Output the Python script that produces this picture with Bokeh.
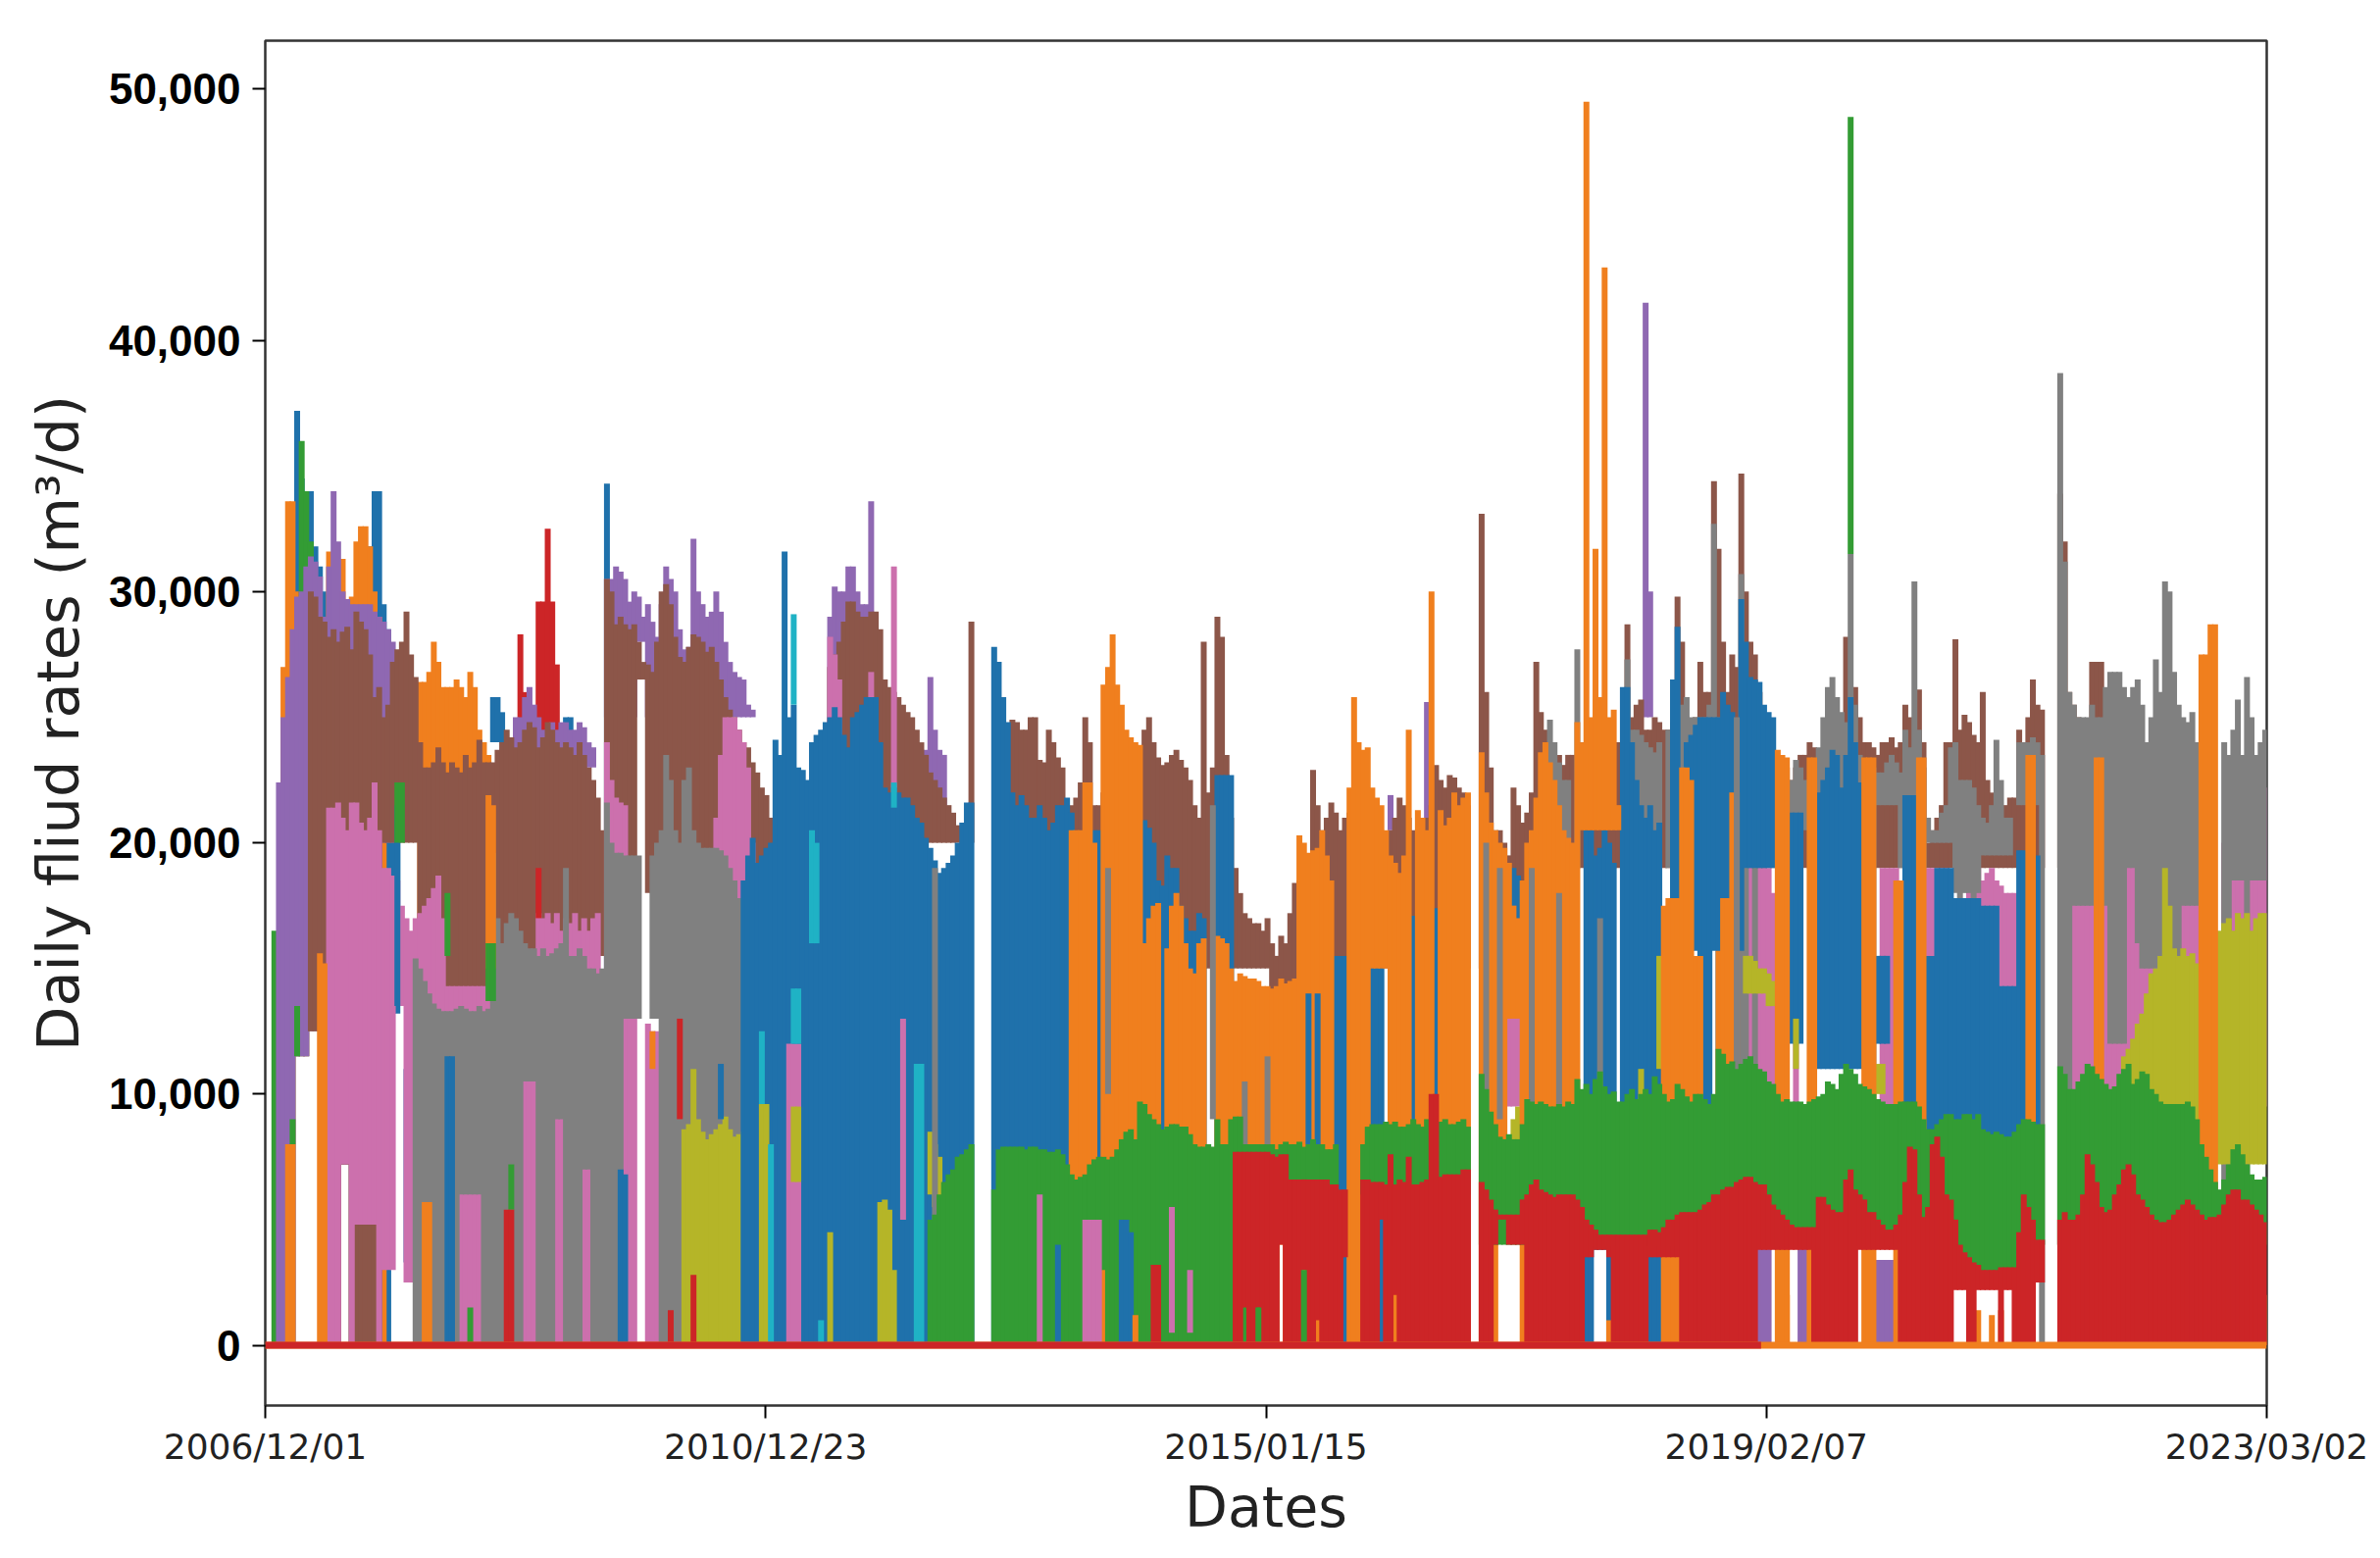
from bokeh.plotting import figure
from bokeh.models import Range1d, FixedTicker, ColumnDataSource
from bokeh.embed import file_html
from bokeh.resources import INLINE

# x is the sample number along the date axis; rates are in hundreds of m3/d
tick_x = [0, 329.5, 659, 988.5, 1318]
tick_text = ["2006/12/01", "2010/12/23", "2015/01/15", "2019/02/07", "2023/03/02"]
y_ticks = [0, 10000, 20000, 30000, 40000, 50000]
STEP = 3

C_BLUE, C_ORANGE, C_GREEN, C_RED, C_PURPLE = "#1f71ab", "#f07f1e", "#339c34", "#cc2527", "#8f68b2"
C_BROWN, C_PINK, C_GRAY, C_OLIVE, C_CYAN = "#8c5649", "#cc70ad", "#808080", "#b5b528", "#1fb2c5"

WHITE_LOW = [(21, 27, 115), (30, 36, 125), (51, 54, 72)]
WHITE_COLS = [(669, 669, 40), (711, 711, 35), (735, 735, 50), (813, 816, 50), (876, 882, 38)]

blue_a_x0 = 18
blue_a = [300, 372, 345, 325, 340, 318, 310, 300, 290, 280,
          270, 270, 270, 270, 270, 280, 300, 318, 340, 340,
          295, 285, 260, 240, 0, 110, 100, 0, 0, 0,
          0, 0, 0, 0, 0, 0, 0, 0, 0, 0,
          0, 0, 0, 0, 258, 258, 252, 240, 230, 225,
          225, 225, 225, 225, 225, 225, 225, 225, 225, 225,
          250, 250, 240, 0, 0, 0, 0, 0, 0, 343]
blue_a_lift = WHITE_LOW + [(84, 90, 132), (93, 96, 33), (150, 222, 240)]

orange_a_x0 = 12
orange_a = [270, 336, 336, 300, 290, 290, 290, 290, 290, 290,
            316, 300, 313, 313, 295, 298, 320, 326, 326, 318,
            300, 290, 280, 0, 0, 0, 0, 0, 0, 0,
            264, 264, 268, 280, 272, 262, 262, 262, 265, 262,
            258, 268, 262, 245, 240, 235]
orange_a_lift = WHITE_LOW + [(102, 150, 150)]

green_a_bits = [(6, 0, 165), (9, 0, 150), (24, 295, 360), (27, 295, 340), (30, 280, 320)]

red_a_x0 = 168
red_a = [283, 260, 0, 0, 296, 296, 325, 296, 271]
red_a_lift = [(168, 192, 240)]

purple_a_x0 = 0
purple_a = [0, 0, 0, 224, 250, 266, 285, 298, 300, 310,
            314, 312, 306, 290, 310, 340, 320, 300, 297, 295,
            295, 295, 295, 295, 292, 290, 288, 285, 280, 0,
            0, 0, 0, 0, 0, 0, 0, 0, 0, 0,
            0, 0, 0, 0, 0, 0, 0, 0, 0, 0,
            0, 0, 0, 0, 0, 250, 250, 258, 262, 255,
            250, 245, 245, 248, 245, 248, 248, 245, 245, 248,
            246, 240, 238, 0, 0, 305, 305, 310, 308, 305,
            296, 300, 298, 290, 295, 288, 282, 295, 310, 305,
            300, 285, 277, 278, 321, 300, 295, 290, 292, 300,
            292, 280, 272, 268, 266, 265, 255, 253, 245, 235,
            228, 225, 0, 0, 0, 0, 0, 0, 0, 0,
            0, 0, 0, 0, 290, 302, 300, 300, 310, 310,
            300, 295, 295, 336, 290, 0, 0, 0, 0, 0,
            0, 0, 0, 0, 237, 237, 266, 245, 237, 235]
purple_a_lift = WHITE_LOW + [(78, 90, 200), (150, 222, 230), (225, 335, 250), (246, 249, 280), (372, 450, 215)]
purple_bits = [(741, 205, 219), (765, 205, 256), (909, 250, 415), (912, 250, 300),
               (885, 0, 46), (888, 0, 47), (891, 0, 47), (894, 0, 46), (897, 0, 46), (900, 0, 45),
               (903, 0, 45), (906, 0, 46), (912, 0, 46), (918, 10, 100), (921, 10, 100),
               (978, 0, 56), (981, 0, 56), (984, 0, 56), (987, 0, 55), (990, 0, 54),
               (1011, 0, 42), (1014, 0, 40), (1062, 0, 34), (1065, 0, 34), (1068, 0, 34), (1071, 0, 34)]

brown_x0 = 30
brown = [300, 298, 290, 288, 282, 285, 280, 284, 286, 277,
         292, 288, 285, 275, 258, 262, 250, 255, 272, 277,
         280, 292, 275, 266, 240, 230, 230, 232, 238, 232,
         228, 232, 230, 228, 235, 230, 232, 241, 232, 232,
         232, 237, 240, 245, 242, 238, 240, 245, 248, 246,
         238, 242, 248, 245, 240, 238, 240, 238, 235, 240,
         235, 230, 225, 218, 205, 305, 300, 287, 290, 287,
         285, 287, 280, 272, 271, 268, 280, 300, 303, 295,
         282, 274, 272, 278, 283, 282, 280, 276, 278, 272,
         265, 258, 253, 250, 245, 240, 238, 232, 228, 222,
         219, 210, 200, 0, 0, 0, 0, 0, 0, 0,
         0, 0, 0, 0, 270, 275, 280, 288, 296, 296,
         292, 290, 290, 292, 292, 285, 265, 262, 260, 258,
         255, 252, 250, 245, 240, 235, 228, 225, 222, 218,
         215, 212, 207, 204, 203, 288, 0, 0, 0, 0,
         0, 0, 0, 0, 249, 248, 245, 245, 250, 250,
         233, 232, 245, 240, 234, 230, 212, 215, 218, 224,
         250, 240, 215, 215, 220, 225, 230, 235, 235, 235,
         235, 238, 238, 245, 250, 240, 234, 231, 232, 235,
         237, 233, 230, 225, 215, 210, 280, 220, 230, 290,
         282, 235, 210, 190, 180, 172, 170, 168, 168, 165,
         170, 160, 155, 163, 160, 172, 184, 185, 190, 195,
         229, 215, 205, 210, 216, 212, 205, 210, 212, 212,
         210, 215, 215, 210, 205, 200, 190, 205, 210, 218,
         215, 210, 205, 205, 208, 210, 215, 231, 225, 222,
         227, 226, 222, 220, 215, 0, 0, 331, 260, 230,
         205, 205, 200, 195, 222, 215, 208, 212, 220, 272,
         252, 245, 240, 235, 235, 231, 235, 235, 235, 240,
         240, 240, 240, 240, 240, 240, 240, 240, 240, 287,
         250, 255, 257, 245, 245, 250, 248, 245, 245, 248,
         298, 280, 250, 245, 250, 272, 260, 260, 344, 317,
         280, 260, 275, 270, 347, 300, 280, 275, 260, 250,
         245, 235, 230, 230, 230, 225, 230, 235, 235, 240,
         238, 235, 230, 232, 235, 240, 245, 282, 262, 262,
         250, 240, 240, 238, 235, 240, 240, 242, 238, 240,
         255, 250, 245, 261, 240, 200, 205, 210, 215, 240,
         240, 281, 245, 251, 248, 243, 240, 260, 225, 220,
         215, 212, 215, 218, 218, 245, 240, 250, 265, 255,
         253, 0, 0, 0, 339, 320, 260, 255, 250, 245,
         245, 272, 272, 272, 250, 235, 240, 240, 235, 235]
brown_lift = WHITE_LOW + [(78, 100, 200), (105, 147, 130), (150, 222, 155), (225, 335, 180),
                          (246, 249, 265), (372, 466, 200), (492, 660, 150), (661, 690, 130),
                          (690, 855, 150), (855, 1230, 190)]

pink_a_x0 = 30
pink_a = [0, 0, 0, 0, 214, 214, 216, 210, 205, 216,
          216, 208, 205, 210, 224, 205, 190, 190, 187, 185,
          175, 170, 165, 170, 172, 175, 178, 182, 187, 170,
          143, 143, 143, 143, 143, 143, 143, 143, 143, 143,
          0, 0, 0, 0, 0, 110, 110, 110, 110, 110,
          172, 170, 172, 168, 172, 165, 170, 168, 172, 165,
          170, 165, 170, 172, 0, 240, 225, 218, 216, 215,
          130, 130, 0, 0, 128, 125, 125, 122, 120, 120,
          0, 0, 0, 0, 0, 0, 0, 0, 0, 210,
          235, 250, 250, 250, 245, 240, 230, 200, 170, 0,
          0, 0, 0, 0, 0, 120, 120, 120, 0, 0,
          0, 0, 0, 0, 282, 275, 265, 0, 0, 0,
          0, 0, 0, 268, 0, 0, 0, 0, 310, 0]
pink_a_lift = [(51, 54, 72), (60, 72, 48), (78, 84, 30), (85, 90, 135), (93, 99, 25), (372, 378, 200), (399, 414, 220)]
pink_bits = [(345, 0, 120), (348, 0, 120), (351, 0, 120), (420, 50, 130)]

pink_b_x0 = 810
pink_b = [0, 0, 160, 160, 160, 162, 160, 158, 0, 0,
          0, 0, 0, 0, 0, 0, 0, 0, 0, 0,
          0, 0, 0, 0, 0, 0, 0, 0, 0, 0,
          0, 0, 0, 0, 0, 170, 170, 170, 0, 0,
          0, 0, 0, 0, 0, 0, 0, 0, 0, 0,
          0, 0, 0, 0, 0, 0, 200, 200, 198, 195,
          190, 180, 170, 0, 0, 0, 190, 0, 0, 0,
          0, 0, 0, 0, 0, 0, 0, 0, 0, 0,
          0, 0, 0, 0, 0, 190, 190, 190, 190, 0,
          0, 0, 0, 0, 0, 190, 190, 190, 190, 190,
          0, 0, 0, 0, 185, 188, 190, 185, 188, 190,
          185, 183, 180, 180, 180, 0, 0, 0, 0, 0,
          0, 0, 0, 0, 0, 0, 210, 212, 215, 212,
          212, 210, 205, 0, 220, 222, 220, 218, 215, 215,
          210, 205, 190, 190, 190, 190, 190, 190, 190, 218,
          218, 218, 215, 215, 212, 0, 0, 0, 0, 0,
          200, 200, 200, 200, 215, 220, 222, 224, 224, 222]
pink_b_lift = [(810, 1317, 95), (1236, 1257, 85)]

gray_a_x0 = 90
gray_a = [0, 0, 0, 154, 150, 145, 140, 136, 134, 133,
          133, 133, 134, 135, 134, 133, 133, 135, 133, 134,
          196, 170, 160, 168, 172, 170, 165, 160, 158, 158,
          155, 158, 155, 156, 158, 160, 190, 155, 155, 158,
          155, 150, 150, 148, 150, 216, 200, 196, 196, 195,
          195, 195, 195, 0, 0, 195, 200, 205, 235, 225,
          205, 200, 225, 230, 205, 200, 198, 198, 198, 198,
          197, 195, 190, 185, 178, 168]
gray_a_lift = [(129, 141, 60), (171, 177, 105), (192, 195, 90), (210, 213, 70), (237, 258, 130)]

gray_b_x0 = 840
gray_b = [0, 0, 249, 240, 232, 225, 225, 0, 277, 0,
          0, 0, 0, 0, 0, 0, 0, 0, 0, 273,
          245, 245, 243, 240, 238, 236, 240, 0, 245, 240,
          250, 255, 258, 250, 250, 250, 250, 255, 327, 250,
          240, 235, 235, 240, 307, 245, 240, 230, 225, 220,
          215, 210, 0, 220, 222, 225, 233, 230, 225, 225,
          230, 238, 250, 262, 266, 258, 252, 248, 315, 255,
          235, 230, 233, 230, 228, 228, 232, 235, 232, 228,
          245, 238, 304, 245, 230, 210, 205, 205, 212, 215,
          238, 240, 225, 225, 225, 222, 215, 210, 208, 215,
          241, 225, 210, 210, 215, 240, 240, 240, 242, 240,
          235, 0, 0, 0, 387, 312, 260, 255, 250, 250,
          250, 255, 250, 250, 262, 268, 268, 268, 262, 258,
          262, 265, 255, 240, 250, 273, 260, 304, 300, 268,
          255, 250, 248, 252, 240, 225, 0, 0, 0, 0,
          240, 235, 245, 257, 235, 266, 250, 235, 240, 245]
gray_b_lift = [(840, 1317, 190), (990, 1020, 205), (1021, 1050, 200), (1062, 1076, 215), (1095, 1110, 200),
               (1111, 1130, 180), (1131, 1150, 195), (1151, 1170, 215), (1190, 1212, 175), (1213, 1230, 190),
               (1231, 1259, 160), (1260, 1275, 175), (1287, 1317, 185),
               (969, 975, 100), (981, 981, 60), (1059, 1059, 60), (1116, 1116, 60),
               (1125, 1125, 60), (1170, 1170, 0), (1182, 1188, 40), (1215, 1226, 120), (1236, 1257, 150),
               (1260, 1260, 60), (1287, 1293, 60), (1305, 1305, 60)]

olive_a_x0 = 270
olive_a = [0, 0, 86, 88, 110, 90, 85, 82, 84, 86,
           88, 91, 86, 83, 84, 85]
olive_d_x0 = 1224
olive_d = [115, 118, 122, 128, 132, 140, 148, 150, 155, 190,
           175, 158, 155, 158, 155, 156, 152, 0, 0, 0,
           0, 165, 168, 170, 165, 172, 170, 172, 165, 170,
           172, 172]
olive_d_lift = [(1224, 1272, 85), (1287, 1317, 72)]
olive_bits = [(327, 0, 96), (330, 0, 96), (348, 65, 95), (351, 65, 95), (372, 0, 45),
              (438, 60, 85), (441, 55, 80), (444, 55, 75),
              (405, 0, 57), (408, 0, 58), (411, 0, 54), (414, 0, 30),
              (822, 75, 90), (825, 75, 95), (828, 75, 105), (831, 75, 110),
              (843, 95, 114), (906, 95, 110), (918, 110, 155), (921, 110, 145),
              (975, 140, 155), (978, 140, 155), (981, 140, 153), (984, 140, 150), (987, 140, 150),
              (990, 135, 148), (993, 135, 145), (1008, 110, 130), (1062, 100, 112), (1065, 100, 112)]

cyan_bits = [(348, 255, 291), (348, 120, 142), (351, 120, 142),
             (327, 96, 125), (333, 0, 80), (429, 0, 112), (432, 0, 112), (366, 0, 10),
             (456, 0, 15), (414, 214, 224), (360, 160, 205), (363, 160, 200)]

blue_b_x0 = 300
blue_b = [0, 0, 0, 0, 0, 185, 195, 202, 192, 195,
          198, 200, 241, 235, 316, 250, 255, 230, 229, 225,
          240, 243, 245, 248, 250, 254, 250, 243, 238, 250,
          252, 255, 258, 258, 258, 240, 222, 220, 222, 220,
          218, 218, 215, 210, 208, 202, 198, 193, 188, 190,
          192, 195, 200, 208, 216, 216, 0, 0, 0, 0,
          278, 272, 258, 248, 220, 215, 219, 215, 210, 210,
          215, 210, 205, 208, 215, 215, 218, 212, 0, 0,
          0, 0, 205, 205, 0, 0, 0, 0, 0, 0,
          0, 0, 0, 209, 206, 200, 185, 183, 195, 190,
          190, 175, 170, 165, 165, 172, 170, 0, 0, 227,
          227, 227, 227]
blue_c_x0 = 690
blue_c = [0, 0, 0, 0, 155, 155, 155, 155, 150, 0,
          0, 0, 0, 155, 155, 152, 0, 0, 0, 0,
          0, 0, 171, 171, 0, 0, 0, 174, 174]
blue_d_x0 = 810
blue_d = [0, 0, 0, 0, 190, 187, 180, 178, 0, 0,
          0, 0, 0, 0, 0, 0, 0, 0, 0, 0,
          205, 205, 195, 198, 205, 200, 192, 0, 262, 262,
          240, 225, 215, 210, 215, 205, 208, 0, 0, 265,
          286, 0, 240, 243, 247, 250, 250, 250, 250, 250,
          260, 255, 252, 248, 297, 280, 266, 265, 264, 255,
          252, 250, 0, 0, 0, 212, 212, 212, 0, 0,
          204, 220, 225, 230, 237, 235, 222, 235, 258, 240,
          224, 0, 0, 0, 155, 155, 155, 0, 0, 0,
          219, 219, 219, 0, 0, 155, 155, 190, 190, 190,
          190, 178, 178, 178, 178, 178, 178, 175, 175, 175,
          175, 143, 143, 143, 143, 197, 197, 0, 195, 195]
blue_d_lift = WHITE_COLS + [(810, 837, 150), (936, 972, 157), (945, 953, 60), (957, 960, 60), (975, 998, 190),
               (1005, 1011, 120), (1020, 1053, 110), (1062, 1068, 120), (1095, 1152, 80), (1153, 1170, 60)]
blue_bits = [(120, 0, 115), (123, 0, 115), (234, 0, 70), (237, 0, 68), (300, 90, 112),
             (87, 135, 215), (1311, 45, 62), (1314, 50, 62), (1287, 30, 40)]

orange_b_x0 = 510
orange_b = [0, 0, 0, 0, 0, 0, 0, 205, 205, 205,
            224, 224, 200, 0, 263, 270, 283, 263, 255, 245,
            242, 240, 239, 160, 170, 175, 176, 0, 158, 175,
            180, 175, 160, 150, 148, 160, 162, 0, 0, 163,
            162, 160, 150, 145, 148, 147, 146, 146, 145, 143,
            143, 142, 143, 146, 144, 145, 146, 203, 200, 196,
            197, 198, 205, 195, 185, 0, 0, 0, 222, 258,
            240, 237, 238, 222, 218, 215, 205, 195, 192, 188,
            195, 245, 0, 213, 210, 205, 300, 0, 213, 207,
            210, 220, 215, 218, 220, 0, 0, 236, 220, 208,
            205, 200, 198, 192, 175, 170, 185, 200, 205, 218,
            236, 240, 232, 225, 215, 205, 202, 200, 248, 240,
            495, 250, 317, 258, 429, 250, 253, 215, 0, 0,
            0, 0, 0, 0, 0, 0, 0, 175, 178, 178,
            178, 230, 230, 225, 155, 155, 0, 0, 0, 157,
            178, 178, 220, 220, 0, 0, 0, 0, 0, 0,
            0, 0, 237, 235, 234, 0, 0, 0, 0, 234,
            234, 0, 0, 0, 0, 0, 0, 0, 0, 0,
            0, 234, 234, 234, 0, 0, 0, 0, 185, 185,
            0, 0, 0, 234, 234, 0, 0, 0, 0, 0,
            0, 0, 0, 0, 0, 0, 0, 0, 0, 0,
            0, 0, 0, 0, 0, 0, 0, 235, 235, 0,
            0, 0, 0, 0, 0, 0, 0, 0, 0, 0,
            0, 0, 234, 234, 0, 0, 0, 0, 22, 25,
            30, 28, 25, 32, 30, 25, 28, 30, 26, 22,
            25, 22, 20, 22, 25, 275, 275, 287, 287, 25,
            25, 22, 22, 25, 20, 25, 25, 22, 22, 20]
orange_b_lift = WHITE_COLS + [(729, 738, 150), (819, 825, 130), (866, 892, 205)]
orange_bits = [(15, 0, 80), (18, 0, 80), (36, 0, 156), (39, 0, 152), (105, 0, 57), (108, 0, 57),
               (147, 150, 219), (150, 150, 215), (255, 110, 125), (885, 0, 10), (960, 0, 30), (1002, 0, 20),
               (1122, 0, 12), (1128, 0, 14), (1137, 0, 12), (1143, 0, 14)]

gray_late = [(441, 50, 190), (555, 100, 190), (624, 90, 215), (645, 80, 105), (660, 80, 115),
             (804, 90, 200), (813, 90, 190), (834, 90, 190), (852, 90, 180), (879, 100, 170), (969, 0, 250)]
blue_late = [(687, 80, 140), (693, 80, 140)]

green_x0 = 420
green = [0, 0, 0, 0, 0, 0, 50, 52, 60, 65,
         68, 70, 75, 76, 78, 80, 0, 0, 0, 0,
         62, 78, 79, 79, 79, 79, 79, 78, 79, 79,
         78, 78, 77, 77, 78, 76, 72, 68, 66, 67,
         68, 72, 74, 75, 75, 74, 75, 78, 82, 85,
         86, 82, 97, 96, 92, 90, 88, 86, 87, 88,
         88, 87, 87, 84, 80, 79, 79, 80, 79, 90,
         80, 80, 90, 91, 91, 80, 80, 80, 80, 80,
         80, 80, 78, 80, 81, 80, 80, 81, 79, 80,
         82, 80, 80, 78, 78, 80, 0, 0, 0, 0,
         0, 80, 87, 88, 88, 88, 89, 88, 89, 87,
         87, 88, 90, 88, 87, 90, 88, 88, 89, 90,
         88, 88, 89, 90, 87, 0, 0, 108, 102, 93,
         88, 83, 82, 84, 82, 82, 88, 98, 97, 96,
         97, 96, 95, 95, 96, 95, 97, 96, 106, 102,
         104, 100, 106, 109, 103, 100, 101, 97, 97, 100,
         102, 98, 100, 102, 100, 107, 104, 100, 97, 98,
         104, 102, 99, 97, 100, 100, 98, 96, 100, 118,
         116, 112, 113, 110, 112, 114, 115, 112, 110, 109,
         105, 104, 100, 97, 98, 97, 97, 97, 96, 97,
         98, 99, 100, 105, 104, 102, 108, 112, 110, 108,
         104, 103, 102, 100, 98, 97, 96, 96, 96, 97,
         97, 97, 97, 95, 90, 86, 86, 88, 90, 92,
         92, 90, 90, 92, 92, 90, 92, 86, 85, 84,
         85, 84, 83, 83, 85, 88, 90, 90, 89, 88,
         88, 0, 0, 0, 111, 108, 102, 102, 105, 108,
         112, 111, 108, 106, 104, 102, 103, 108, 110, 112,
         104, 106, 109, 108, 102, 100, 97, 96, 96, 96,
         96, 96, 97, 95, 90, 80, 75, 70, 65, 62,
         66, 72, 78, 80, 76, 72, 68, 66, 66, 67]
green_lift = [(540, 552, 30), (564, 572, 35), (660, 800, 60), (801, 1109, 40), (1110, 1152, 28),
              (1153, 1249, 40), (1250, 1268, 28), (1269, 1317, 40)]
green_bits = [(87, 200, 224), (90, 200, 224), (120, 155, 180), (147, 137, 160), (150, 137, 160),
              (21, 115, 135), (18, 80, 90), (162, 54, 72), (135, 0, 15), (1044, 315, 489)]

pink_top = [(510, 0, 60), (540, 0, 50), (543, 0, 50), (546, 0, 50), (549, 0, 50), (597, 5, 55), (609, 5, 30)]
blue_top = [(564, 0, 50), (567, 0, 50), (570, 0, 45), (522, 0, 40)]
orange_top = [(573, 0, 12)]

red_x0 = 630
red = [0, 0, 0, 77, 77, 77, 77, 77, 77, 77,
       77, 76, 75, 76, 76, 66, 66, 66, 66, 66,
       66, 66, 66, 66, 64, 64, 62, 62, 0, 0,
       0, 66, 66, 65, 65, 65, 64, 76, 64, 66,
       65, 75, 64, 64, 65, 66, 100, 100, 67, 68,
       68, 68, 68, 70, 70, 0, 0, 65, 62, 58,
       54, 52, 52, 52, 52, 52, 58, 60, 64, 66,
       62, 61, 60, 59, 60, 60, 60, 60, 58, 55,
       50, 48, 46, 44, 44, 44, 44, 44, 44, 44,
       44, 44, 44, 44, 46, 46, 45, 47, 50, 50,
       52, 53, 53, 53, 53, 54, 56, 57, 60, 60,
       62, 63, 63, 65, 66, 67, 67, 65, 64, 64,
       60, 56, 54, 52, 50, 48, 47, 47, 47, 47,
       47, 59, 59, 56, 54, 53, 53, 66, 70, 62,
       60, 58, 53, 53, 50, 48, 46, 46, 48, 52,
       65, 79, 78, 60, 51, 55, 80, 83, 75, 60,
       58, 50, 40, 37, 35, 33, 32, 30, 30, 30,
       30, 31, 31, 31, 31, 45, 60, 55, 50, 42,
       42, 0, 0, 0, 50, 53, 50, 50, 52, 60,
       76, 72, 65, 55, 53, 54, 60, 64, 70, 72,
       68, 60, 58, 55, 52, 50, 49, 49, 50, 52,
       54, 56, 58, 56, 54, 52, 50, 51, 51, 52,
       56, 60, 62, 62, 58, 58, 56, 54, 52, 49]
red_lift = WHITE_COLS + [(645, 645, 15), (654, 654, 15), (684, 684, 30), (693, 693, 10), (744, 744, 20),
            (810, 812, 40), (817, 830, 40), (870, 875, 35), (883, 885, 35), (910, 932, 35),
            (984, 1018, 38), (1048, 1075, 38), (1112, 1120, 22), (1126, 1140, 22), (1146, 1150, 22),
            (1165, 1172, 25)]
red_bits = [(159, 0, 54), (162, 0, 54), (267, 0, 14), (282, 0, 28), (273, 90, 130), (180, 170, 190),
            (585, 0, 32), (588, 0, 32)]
green_top = [(654, 0, 15), (684, 0, 30)]

base_x = [0, 1318]
base_red_x = [0, 985]
base_y = [0, 0]


def lift_at(u, lift):
    lo = 0
    for a, b, v in lift:
        if a <= u <= b:
            lo = v
    return lo


def draw(p, hi, x0, lift, color):
    xs, los, his = [], [], []
    for i, v in enumerate(hi):
        u = x0 + STEP * i
        lo = lift_at(u, lift)
        if v > lo:
            xs.append(u)
            los.append(lo * 100)
            his.append(v * 100)
    src = ColumnDataSource(dict(x=xs, lo=los, hi=his))
    p.segment("x", "lo", "x", "hi", source=src, line_color=color, line_width=6)


def draw_bits(p, bits, color):
    src = ColumnDataSource(dict(x=[b[0] for b in bits],
                                lo=[b[1] * 100 for b in bits],
                                hi=[b[2] * 100 for b in bits]))
    p.segment("x", "lo", "x", "hi", source=src, line_color=color, line_width=6)


p = figure(width=2419, height=1581, output_backend="svg", toolbar_location=None,
           x_range=Range1d(0, 1318), y_range=Range1d(-2400, 51930),
           min_border_left=270, min_border_right=108, min_border_top=41, min_border_bottom=148,
           background_fill_color="white", border_fill_color="white")

draw(p, blue_a, blue_a_x0, blue_a_lift, C_BLUE)
draw(p, orange_a, orange_a_x0, orange_a_lift, C_ORANGE)
draw_bits(p, green_a_bits, C_GREEN)
draw(p, red_a, red_a_x0, red_a_lift, C_RED)
draw(p, purple_a, purple_a_x0, purple_a_lift, C_PURPLE)
draw_bits(p, purple_bits, C_PURPLE)
draw(p, brown, brown_x0, brown_lift, C_BROWN)
draw(p, pink_a, pink_a_x0, pink_a_lift, C_PINK)
draw(p, pink_b, pink_b_x0, pink_b_lift, C_PINK)
draw(p, gray_a, gray_a_x0, gray_a_lift, C_GRAY)
draw(p, gray_b, gray_b_x0, gray_b_lift, C_GRAY)
draw(p, olive_a, olive_a_x0, [], C_OLIVE)
draw(p, olive_d, olive_d_x0, olive_d_lift, C_OLIVE)
draw(p, blue_b, blue_b_x0, [], C_BLUE)
draw(p, blue_c, blue_c_x0, [], C_BLUE)
draw(p, blue_d, blue_d_x0, blue_d_lift, C_BLUE)
draw_bits(p, blue_bits, C_BLUE)
draw_bits(p, pink_bits, C_PINK)
draw_bits(p, olive_bits, C_OLIVE)
draw_bits(p, cyan_bits, C_CYAN)
draw(p, orange_b, orange_b_x0, orange_b_lift, C_ORANGE)
draw_bits(p, orange_bits, C_ORANGE)
draw_bits(p, gray_late, C_GRAY)
draw_bits(p, blue_late, C_BLUE)
draw(p, green, green_x0, green_lift, C_GREEN)
draw_bits(p, green_bits, C_GREEN)
draw_bits(p, pink_top, C_PINK)
draw_bits(p, blue_top, C_BLUE)
draw_bits(p, orange_top, C_ORANGE)
draw(p, red, red_x0, red_lift, C_RED)
draw_bits(p, red_bits, C_RED)
draw_bits(p, green_top, C_GREEN)
p.line(base_x, base_y, line_color=C_ORANGE, line_width=7)
p.line(base_red_x, base_y, line_color=C_RED, line_width=7)

p.grid.visible = False
p.outline_line_color = "#333333"
p.outline_line_width = 2.5

xa = p.xaxis[0]
xa.ticker = FixedTicker(ticks=tick_x)
xa.major_label_overrides = {t: s for t, s in zip(tick_x, tick_text)}
xa.major_label_text_font = "DejaVu Sans"
xa.major_label_text_font_size = "36px"
xa.major_label_text_color = "#222222"
xa.major_label_standoff = 8
xa.axis_label = "Dates"
xa.axis_label_text_font = "DejaVu Sans"
xa.axis_label_text_font_style = "normal"
xa.axis_label_text_font_size = "57px"
xa.axis_label_text_color = "#222222"
xa.axis_label_standoff = 5
xa.axis_line_color = None
xa.major_tick_in = 0
xa.major_tick_out = 13
xa.major_tick_line_width = 2
xa.minor_tick_line_color = None

ya = p.yaxis[0]
ya.ticker = FixedTicker(ticks=y_ticks)
ya.major_label_overrides = {t: f"{t:,}" for t in y_ticks}
ya.major_label_text_font = "Liberation Sans"
ya.major_label_text_font_style = "bold"
ya.major_label_text_font_size = "44px"
ya.major_label_text_color = "black"
ya.major_label_standoff = 12
ya.axis_label = "Daily fliud rates (m³/d)"
ya.axis_label_text_font = "DejaVu Sans"
ya.axis_label_text_font_style = "normal"
ya.axis_label_text_font_size = "59px"
ya.axis_label_text_color = "#222222"
ya.axis_label_standoff = 14
ya.axis_line_color = None
ya.major_tick_in = 0
ya.major_tick_out = 13
ya.major_tick_line_width = 2
ya.minor_tick_line_color = None

open("out.html", "w").write(file_html(p, INLINE))
